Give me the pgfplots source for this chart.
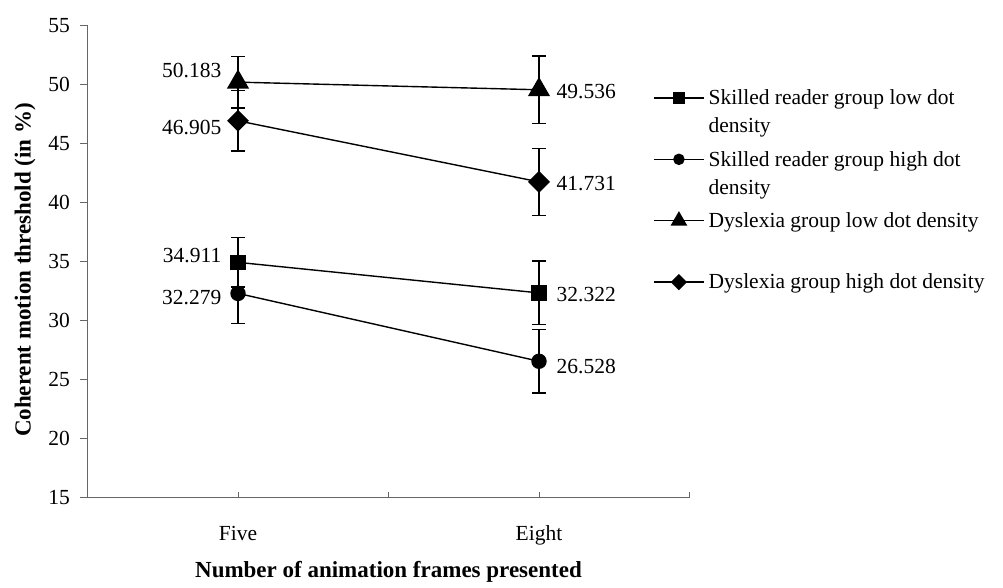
\documentclass[border=0pt]{standalone}
\usepackage{fontspec}
\setmainfont{Liberation Serif}
\usepackage{pgfplots}
\pgfplotsset{compat=1.18}
\pgfplotstableread{
x y err
0 34.911 2.1
1 32.322 2.7
}\skilledlow
\pgfplotstableread{
x y err
0 32.279 2.55
1 26.528 2.7
}\skilledhigh
\pgfplotstableread{
x y err
0 50.183 2.2
1 49.536 2.85
}\dyslow
\pgfplotstableread{
x y err
0 46.905 2.55
1 41.731 2.85
}\dyshigh
\pgfplotstableread{
x y label
0 51.21 50.183
0 46.30 46.905
0 35.53 34.911
0 31.92 32.279
}\labfive
\pgfplotstableread{
x y label
1 49.35 49.536
1 41.55 41.731
1 32.20 32.322
1 26.12 26.528
}\labeight
\begin{document}
\begin{tikzpicture}[font=\fontsize{21.5}{28}\selectfont]
\useasboundingbox (0,0) rectangle (1003pt,587pt);
\begin{axis}[
  at={(87.5pt,89.7pt)}, anchor=south west,
  scale only axis, width=602pt, height=472pt,
  xmin=-0.5, xmax=1.5, ymin=15, ymax=55,
  xtick={-0.5,0,0.5,1,1.5}, xticklabels={,Five,,Eight,},
  ytick={15,20,...,55},
  axis lines=left, axis line style={-, black!60, line width=1pt},
  tick style={black!60, line width=1pt},
  tick align=inside,
  xtick style={/pgfplots/major tick length=5pt},
  ytick style={/pgfplots/major tick length=8pt, xshift=-8pt},
  /pgf/number format/assume math mode=true,
  yticklabel style={anchor=east, inner sep=0pt, xshift=-17.5pt},
  xticklabel style={anchor=base, inner sep=0pt, yshift=-43pt},
  xlabel={Number of animation frames presented},
  xlabel style={at={(axis description cs:0.5,0)}, anchor=base, yshift=-79.7pt, inner sep=0pt, font=\fontsize{23}{28}\selectfont\bfseries},
  ylabel={Coherent motion threshold (in \%)},
  ylabel style={at={(axis description cs:-0.1038,0.4816)}, anchor=center, inner sep=0pt, font=\fontsize{23}{28}\selectfont\bfseries},
  clip=false,
  legend cell align=left,
  legend style={at={(axis description cs:0.9394,0.864)}, anchor=north west, draw=none, fill=none, inner sep=0pt, row sep=17pt, column sep=4pt, nodes={align=left, inner sep=0pt}},
  legend image code/.code={\draw[mark repeat=2,mark phase=2,yshift=14pt,#1] plot coordinates {(0pt,0pt)(25pt,0pt)(50pt,0pt)};},
  legend image post style={every mark/.append style={scale=0.72}},
  every axis plot/.append style={black, line width=1.4pt},
  error bars/error bar style={line width=1.3pt, black},
  error bars/error mark options={rotate=90, mark size=6.7pt, line width=1.3pt, black},
]
\addplot[mark=square*, mark size=7pt, mark options={solid}, error bars/.cd, y dir=both, y explicit]
  table[x=x, y=y, y error=err] {\skilledlow};
\addlegendentry{Skilled reader group low dot\\density}
\addplot[mark=*, mark size=7pt, error bars/.cd, y dir=both, y explicit]
  table[x=x, y=y, y error=err] {\skilledhigh};
\addlegendentry{Skilled reader group high dot\\density}
\addplot[mark=triangle*, mark size=11.4pt, error bars/.cd, y dir=both, y explicit]
  table[x=x, y=y, y error=err] {\dyslow};
\addlegendentry{Dyslexia group low dot density\\\vphantom{y}}
\addplot[mark=square*, mark size=7pt, mark options={rotate=45}, error bars/.cd, y dir=both, y explicit]
  table[x=x, y=y, y error=err] {\dyshigh};
\addlegendentry{Dyslexia group high dot density\\\vphantom{y}}
\addplot[draw=none, forget plot, nodes near coords, point meta=explicit symbolic,
  nodes near coords style={anchor=east, inner sep=0pt, xshift=-16pt, yshift=0pt, font=\fontsize{21.5}{28}\selectfont}]
  table[x=x, y=y, meta=label] {\labfive};
\addplot[draw=none, forget plot, nodes near coords, point meta=explicit symbolic,
  nodes near coords style={anchor=west, inner sep=0pt, xshift=17pt, yshift=0pt, font=\fontsize{21.5}{28}\selectfont}]
  table[x=x, y=y, meta=label] {\labeight};
\end{axis}
\end{tikzpicture}
\end{document}
